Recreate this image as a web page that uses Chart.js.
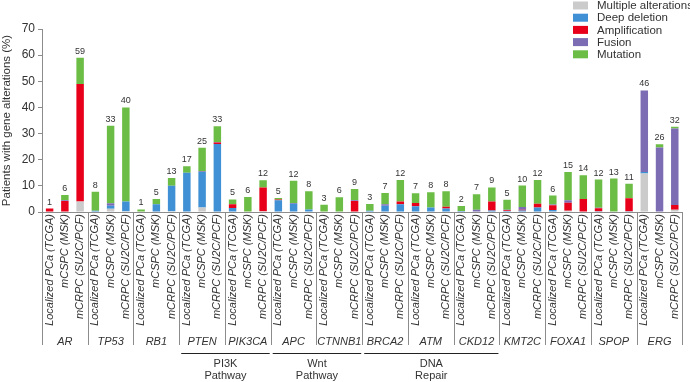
<!DOCTYPE html>
<html>
<head>
<meta charset="utf-8">
<script src="https://cdn.jsdelivr.net/npm/chart.js@4.4.1/dist/chart.umd.min.js"></script>
<style>
  html, body { margin: 0; padding: 0; background: #fff; }
</style>
</head>
<body>
<canvas id="myChart" width="690" height="382"></canvas>
<script>
// genes, 3 cohorts each
const genes = ['AR', 'TP53', 'RB1', 'PTEN', 'PIK3CA', 'APC', 'CTNNB1', 'BRCA2', 'ATM', 'CKD12', 'KMT2C', 'FOXA1', 'SPOP', 'ERG'];
const cohorts = ['Localized PCa (TCGA)', 'mCSPC (MSK)', 'mCRPC (SU2C/PCF)'];

// pathway brackets: first and last gene index
const pathways = [
  { text: ['PI3K', 'Pathway'], from: 3, to: 4 },
  { text: ['Wnt', 'Pathway'], from: 5, to: 6 },
  { text: ['DNA', 'Repair'], from: 7, to: 9 }
];

// % of patients, per gene: TCGA, MSK, SU2C/PCF
const multipleAlt = [
  0, 0, 4,      0, 1.2, 0.3,   0, 0, 0.3,     0, 1.7, 0,
  0, 0, 0.3,    0, 0, 0,       0, 0, 0.2,     0, 0, 0,
  0, 0, 0,      0, 0, 0,       0, 0, 0,       0, 0.5, 0,
  0, 0, 0,      14.7, 0, 0.9
];
const deepDeletion = [
  0, 0, 0,      0.5, 1.2, 3.7, 0.2, 3, 9.7,   15, 13.6, 26,
  1.5, 0, 0,    4.5, 3.2, 1,   0.2, 0, 0,     0.5, 2.4, 3,
  2.2, 1.7, 1.3, 0.4, 0, 0.6,  0.4, 0.6, 1.7, 0.8, 0, 0,
  0.3, 0, 0.3,  0.6, 0, 0
];
const amplification = [
  1.3, 4.2, 45, 0, 0, 0,       0, 0, 0,       0, 0, 0.6,
  1.5, 0, 9.1,  0.3, 0, 0,     0, 0, 4,       0, 0, 1,
  1.2, 0, 0.7,  0, 0, 3.4,     0.3, 0.3, 1.5, 1.8, 3, 5,
  1.1, 0.2, 5,  0, 0, 1.8
];
const fusion = [
  0, 0.3, 0,    0, 0.9, 0,     0, 0, 0,       0, 0.3, 0.2,
  0, 0, 0,      0, 0.2, 0,     0, 0, 0.3,     0, 0.6, 0,
  0, 0, 0,      0, 0.9, 0,     0.2, 1, 0,     0.3, 1, 0,
  0.2, 0, 0,    31.2, 24.7, 29.2
];
const mutation = [
  0, 2, 10,     7.2, 29.7, 36, 0.8, 2, 3,     2.5, 9, 6,
  1.8, 5.7, 2.7, 0.6, 8.6, 6.9, 2.6, 5.6, 4.3, 2.6, 4.3, 8.2,
  3.8, 5.9, 5.9, 1.9, 5.9, 5.4, 3.8, 8.2, 9,  3.4, 10.8, 9.1,
  10.8, 12.6, 5.5, 0, 1.2, 0.7
];
const totalLabels = [
  1, 6, 59,   8, 33, 40,   1, 5, 13,   17, 25, 33,  5, 6, 12,
  5, 12, 8,   3, 6, 9,     3, 7, 12,   7, 8, 8,     2, 7, 9,
  5, 10, 12,  6, 15, 14,   12, 13, 11, 46, 26, 32
];
const yMax = 70;
const yStep = 10;

const labels = [];
genes.forEach(() => cohorts.forEach(c => labels.push(c)));

const FONT = "'Liberation Sans', Arial, sans-serif";
const TEXT = '#333333';
const LINE = '#8c8c8c';

function groupEdge(x, k) {
  // left edge of gene group k (k may equal genes.length for right end)
  const step = x.getPixelForValue(1) - x.getPixelForValue(0);
  return x.getPixelForValue(k * 3) - step / 2;
}

const extras = {
  id: 'extras',
  afterDatasetsDraw(chart) {
    const ctx = chart.ctx;
    const x = chart.scales.x, y = chart.scales.y;
    ctx.save();
    ctx.font = '9px ' + FONT;
    ctx.fillStyle = TEXT;
    ctx.textAlign = 'center';
    ctx.textBaseline = 'bottom';
    totalLabels.forEach((t, i) => {
      let sum = 0;
      chart.data.datasets.forEach(ds => { sum += ds.data[i]; });
      ctx.fillText(String(t), x.getPixelForValue(i), y.getPixelForValue(sum) - 2);
    });
    ctx.restore();
  },
  afterDraw(chart) {
    const ctx = chart.ctx;
    const x = chart.scales.x;
    const area = chart.chartArea;
    ctx.save();
    // group separators
    ctx.strokeStyle = LINE;
    ctx.lineWidth = 1;
    for (let k = 0; k <= genes.length; k++) {
      const px = Math.round(groupEdge(x, k)) + 0.5;
      ctx.beginPath();
      ctx.moveTo(px, area.bottom);
      ctx.lineTo(px, 345);
      ctx.stroke();
    }
    // gene names
    ctx.fillStyle = TEXT;
    ctx.textAlign = 'center';
    ctx.textBaseline = 'middle';
    ctx.font = 'italic 11px ' + FONT;
    genes.forEach((g, k) => {
      ctx.fillText(g, x.getPixelForValue(k * 3 + 1), 342);
    });
    // pathway brackets
    ctx.font = '11px ' + FONT;
    ctx.strokeStyle = '#222';
    pathways.forEach(p => {
      const x0 = groupEdge(x, p.from) + 2;
      const x1 = groupEdge(x, p.to + 1) - 1;
      ctx.beginPath();
      ctx.moveTo(x0, 353.5);
      ctx.lineTo(x1, 353.5);
      ctx.stroke();
      const cx = (x0 + x1) / 2;
      ctx.fillText(p.text[0], cx, 364);
      ctx.fillText(p.text[1], cx, 376);
    });
    // legend
    ctx.textAlign = 'left';
    ctx.font = '11.5px ' + FONT;
    chart.data.datasets.forEach((ds, i) => {
      const cy = 5.5 + i * 12.2;
      ctx.fillStyle = ds.backgroundColor;
      ctx.fillRect(573, cy - 4, 15, 8);
      ctx.fillStyle = TEXT;
      ctx.fillText(ds.label, 597, cy + 0.5);
    });
    ctx.restore();
  }
};

const ctx = document.getElementById('myChart').getContext('2d');
new Chart(ctx, {
  type: 'bar',
  data: {
    labels: labels,
    datasets: [
      { label: 'Multiple alterations', data: multipleAlt, backgroundColor: '#cbcbcb' },
      { label: 'Deep deletion', data: deepDeletion, backgroundColor: '#3f90d4' },
      { label: 'Amplification', data: amplification, backgroundColor: '#e8001a' },
      { label: 'Fusion', data: fusion, backgroundColor: '#7b6cb3' },
      { label: 'Mutation', data: mutation, backgroundColor: '#6cbd45' }
    ]
  },
  options: {
    responsive: false,
    animation: false,
    devicePixelRatio: 1,
    layout: { padding: { top: 29, right: 1, left: 0, bottom: 0 } },
    datasets: { bar: { categoryPercentage: 1, barPercentage: 0.49, borderWidth: 0 } },
    plugins: {
      legend: { display: false },
      tooltip: { enabled: false }
    },
    scales: {
      x: {
        stacked: true,
        afterFit(scale) { scale.height = 170; },
        grid: { display: false, drawTicks: false },
        border: { display: true, color: LINE },
        ticks: {
          autoSkip: false,
          minRotation: 90,
          maxRotation: 90,
          padding: 2,
          color: TEXT,
          font: { family: FONT, size: 11, style: 'italic' }
        }
      },
      y: {
        stacked: true,
        min: 0,
        max: yMax,
        afterFit(scale) { scale.width = 42; },
        grid: { drawOnChartArea: false, drawTicks: true, tickLength: 4, color: LINE },
        border: { display: true, color: LINE },
        ticks: { stepSize: yStep, padding: 3, color: TEXT, font: { family: FONT, size: 12 } },
        title: {
          display: true,
          text: 'Patients with gene alterations (%)',
          color: TEXT,
          padding: 0,
          font: { family: FONT, size: 11.5 }
        }
      }
    }
  },
  plugins: [extras]
});
</script>
</body>
</html>
